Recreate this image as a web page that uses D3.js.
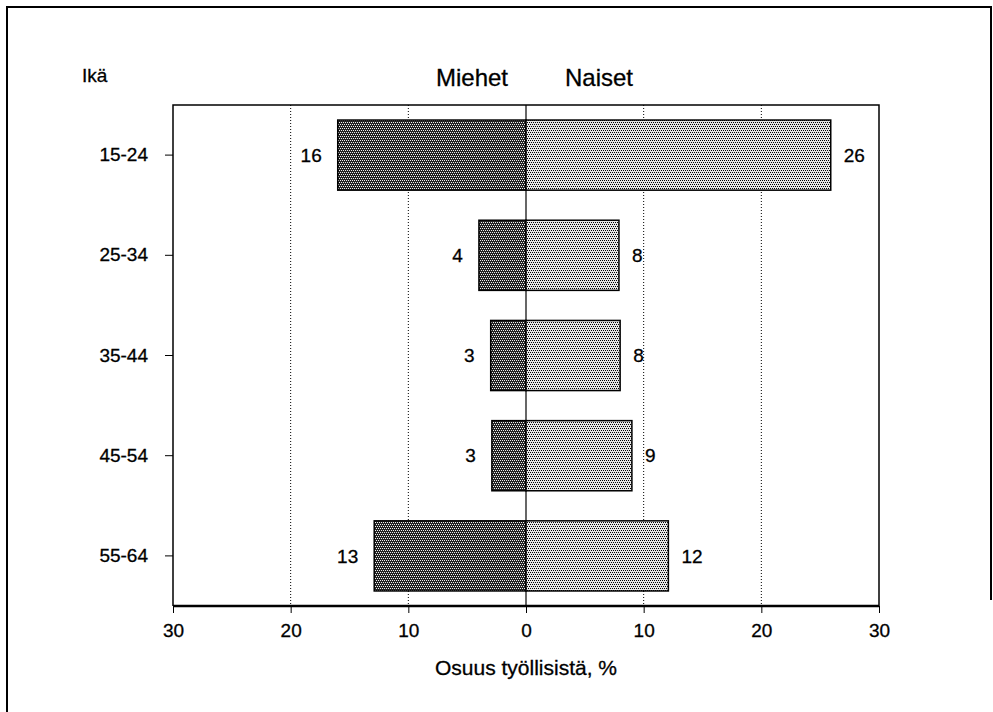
<!DOCTYPE html>
<html>
<head>
<meta charset="utf-8">
<script src="https://cdn.jsdelivr.net/npm/d3@7"></script>
<style>
  body { margin: 0; background: #fff; }
  svg text { font-family: "Liberation Sans", Arial, sans-serif; fill: #000; stroke: #000; stroke-width: 0.3px; }
</style>
</head>
<body>
<svg id="canvas" width="993" height="712"></svg>
<script>
// data
let ages = ["15-24", "25-34", "35-44", "45-54", "55-64"];
let miehet = [16.0, 4.0, 3.0, 2.9, 12.9];
let naiset = [25.9, 7.9, 8.0, 9.0, 12.1];
let miehetLabels = ["16", "4", "3", "3", "13"];
let naisetLabels = ["26", "8", "8", "9", "12"];
let xTicks = [-30, -20, -10, 0, 10, 20, 30];
let gridTicks = [-20, -10, 10, 20];

let canvas = d3.select("#canvas");

let plotLeft = 173, plotRight = 879, plotTop = 105, plotBottom = 606;

let xScale = d3.scaleLinear().domain([-30, 30]).range([plotLeft, plotRight]);
let yScale = d3.scaleBand().domain(ages).range([plotTop, plotBottom])
  .paddingInner(0.3).paddingOuter(0.15);

// patterns for the two series
let defs = canvas.append("defs");
let pm = defs.append("pattern").attr("id", "patMiehet")
  .attr("patternUnits", "userSpaceOnUse").attr("width", 4).attr("height", 4);
pm.append("rect").attr("width", 4).attr("height", 4).attr("fill", "#222");
[[0, 0], [2, 0], [1, 2], [3, 2]].forEach(p => {
  pm.append("rect").attr("x", p[0]).attr("y", p[1]).attr("width", 1).attr("height", 1).attr("fill", "#f0f0f0");
});
let pn = defs.append("pattern").attr("id", "patNaiset")
  .attr("patternUnits", "userSpaceOnUse").attr("width", 4).attr("height", 4);
pn.append("rect").attr("width", 4).attr("height", 4).attr("fill", "#e6e6e6");
[[0, 0], [2, 0], [1, 2], [3, 2]].forEach(p => {
  pn.append("rect").attr("x", p[0]).attr("y", p[1]).attr("width", 1).attr("height", 1).attr("fill", "#000");
});

// outer frame
canvas.append("path")
  .attr("d", "M7,712 L7,7 L991,7 L991,600")
  .attr("fill", "none").attr("stroke", "#000").attr("stroke-width", 2);

// dotted grid
canvas.selectAll(".grid")
  .data(gridTicks)
  .enter()
  .append("line")
  .attr("class", "grid")
  .attr("x1", d => xScale(d)).attr("x2", d => xScale(d))
  .attr("y1", plotTop).attr("y2", plotBottom)
  .attr("stroke", "#000").attr("stroke-width", 1)
  .attr("stroke-dasharray", "1,2");

// zero line
canvas.append("line")
  .attr("x1", xScale(0)).attr("x2", xScale(0))
  .attr("y1", plotTop).attr("y2", plotBottom)
  .attr("stroke", "#000").attr("stroke-width", 1.2);

// bars
canvas.selectAll(".bm")
  .data(ages)
  .enter()
  .append("rect")
  .attr("class", "bm")
  .attr("x", (d, i) => xScale(-miehet[i]))
  .attr("y", d => yScale(d))
  .attr("width", (d, i) => xScale(0) - xScale(-miehet[i]))
  .attr("height", yScale.bandwidth())
  .attr("fill", "url(#patMiehet)")
  .attr("stroke", "#000").attr("stroke-width", 1.5);

canvas.selectAll(".bn")
  .data(ages)
  .enter()
  .append("rect")
  .attr("class", "bn")
  .attr("x", xScale(0))
  .attr("y", d => yScale(d))
  .attr("width", (d, i) => xScale(naiset[i]) - xScale(0))
  .attr("height", yScale.bandwidth())
  .attr("fill", "url(#patNaiset)")
  .attr("stroke", "#000").attr("stroke-width", 1.5);

// value labels
canvas.selectAll(".lm")
  .data(ages)
  .enter()
  .append("text")
  .attr("x", (d, i) => xScale(-miehet[i]) - 16)
  .attr("y", d => yScale(d) + yScale.bandwidth() / 2)
  .attr("dy", "0.35em")
  .attr("text-anchor", "end")
  .attr("font-size", "19px")
  .text((d, i) => miehetLabels[i]);

canvas.selectAll(".ln")
  .data(ages)
  .enter()
  .append("text")
  .attr("x", (d, i) => xScale(naiset[i]) + 13)
  .attr("y", d => yScale(d) + yScale.bandwidth() / 2)
  .attr("dy", "0.35em")
  .attr("text-anchor", "start")
  .attr("font-size", "19px")
  .text((d, i) => naisetLabels[i]);

// plot frame
canvas.append("path")
  .attr("d", `M${plotLeft},${plotBottom} L${plotLeft},${plotTop} L${plotRight},${plotTop} L${plotRight},${plotBottom}`)
  .attr("fill", "none").attr("stroke", "#000").attr("stroke-width", 1.5);

// x axis
let xAxis = d3.axisBottom(xScale)
  .tickValues(xTicks)
  .tickSize(7)
  .tickPadding(11)
  .tickFormat(d => Math.abs(d));
let gx = canvas.append("g")
  .attr("transform", `translate(0,${plotBottom})`)
  .call(xAxis);
gx.select(".domain").attr("stroke-width", 2.5).attr("d", `M${plotLeft},0H${plotRight}`);
gx.selectAll("text").attr("font-size", "19px").attr("font-family", "Liberation Sans, Arial, sans-serif");

// y axis
let yAxis = d3.axisLeft(yScale).tickSize(8).tickPadding(17);
let gy = canvas.append("g")
  .attr("transform", `translate(${plotLeft},0)`)
  .call(yAxis);
gy.select(".domain").remove();
gy.selectAll("text").attr("font-size", "19px").attr("font-family", "Liberation Sans, Arial, sans-serif");

// titles
canvas.append("text").attr("x", 82).attr("y", 82).attr("font-size", "19px").text("Ikä");
canvas.append("text").attr("x", 508).attr("y", 86).attr("text-anchor", "end")
  .attr("font-size", "24px").text("Miehet");
canvas.append("text").attr("x", 565).attr("y", 86).attr("text-anchor", "start")
  .attr("font-size", "24px").text("Naiset");
canvas.append("text").attr("x", xScale(0)).attr("y", 675).attr("text-anchor", "middle")
  .attr("font-size", "21px").text("Osuus työllisistä, %");
</script>
</body>
</html>
